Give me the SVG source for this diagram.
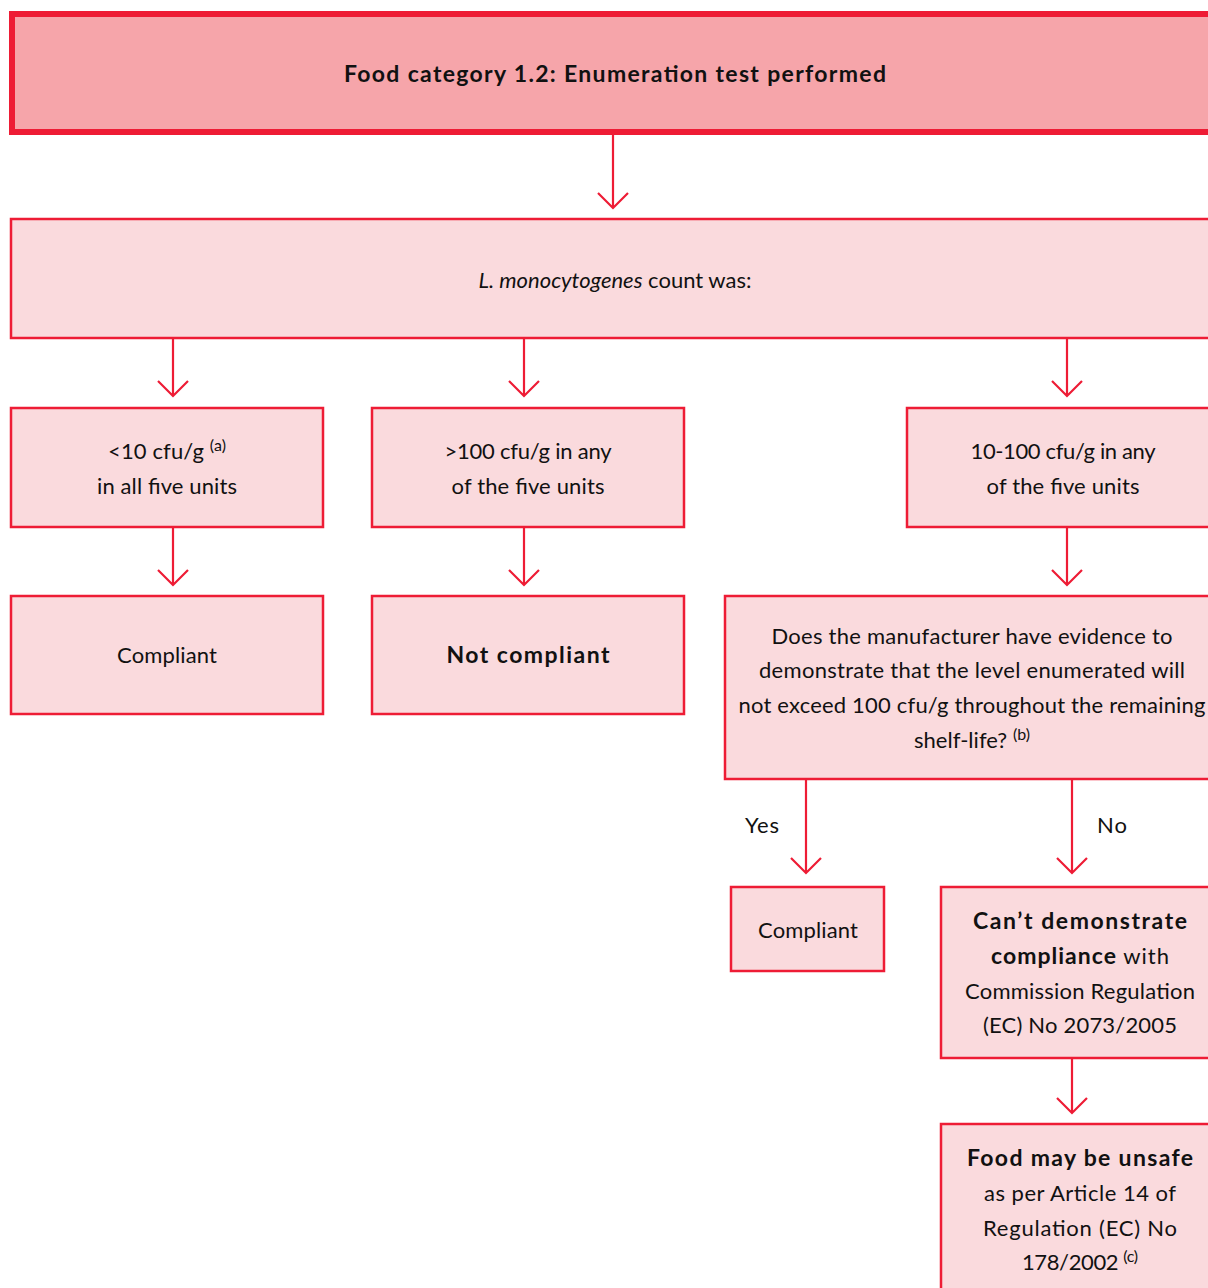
<svg xmlns="http://www.w3.org/2000/svg" width="1208" height="1288" viewBox="0 0 1208 1288">
<style>
.box{fill:#FADADD;stroke:#EE1C35;stroke-width:2.5}
.top{fill:#F6A5AA;stroke:#EE1C35;stroke-width:6}
.t{font-family:Lato,"Open Sans",sans-serif;font-size:22px;fill:#111;text-anchor:middle}
.b{font-weight:bold;font-size:23px}
.sup{font-size:16px}
.c path{stroke:#EE1C35;stroke-width:2.2;fill:none}
</style>
<rect width="1208" height="1288" fill="#fff"/>
<g class="c">
<path d="M613,135 V208 M598,193 L613,208 L628,193"/>
<path d="M173,338 V396 M158,381 L173,396 L188,381"/>
<path d="M524,338 V396 M509,381 L524,396 L539,381"/>
<path d="M1067,338 V396 M1052,381 L1067,396 L1082,381"/>
<path d="M173,527 V585 M158,570 L173,585 L188,570"/>
<path d="M524,527 V585 M509,570 L524,585 L539,570"/>
<path d="M1067,527 V585 M1052,570 L1067,585 L1082,570"/>
<path d="M806,779 V873 M791,858 L806,873 L821,858"/>
<path d="M1072,779 V873 M1057,858 L1072,873 L1087,858"/>
<path d="M1072,1058 V1113 M1057,1098 L1072,1113 L1087,1098"/>
<text class="t" x="762" y="833" textLength="34" lengthAdjust="spacing">Yes</text>
<text class="t" x="1112" y="833" textLength="30" lengthAdjust="spacing">No</text>
</g>
<g id="n1"><rect class="top" x="12" y="14" width="1220" height="118"/>
<text class="t b" x="615" y="82" textLength="542" lengthAdjust="spacing">Food category 1.2: Enumeration test performed</text></g>
<g id="n2"><rect class="box" x="11" y="219" width="1220" height="119"/>
<text class="t" x="615" y="288" textLength="273" lengthAdjust="spacing"><tspan font-style="italic">L. monocytogenes</tspan> count was:</text></g>
<g id="n3"><rect class="box" x="11" y="408" width="312" height="119"/>
<text class="t" x="167" y="459" textLength="118" lengthAdjust="spacing">&lt;10 cfu/g <tspan class="sup" dy="-8">(a)</tspan></text>
<text class="t" x="167" y="494" textLength="140" lengthAdjust="spacing">in all five units</text></g>
<g id="n4"><rect class="box" x="372" y="408" width="312" height="119"/>
<text class="t" x="528" y="459" textLength="167" lengthAdjust="spacing">&gt;100 cfu/g in any</text>
<text class="t" x="528" y="494" textLength="153" lengthAdjust="spacing">of the five units</text></g>
<g id="n5"><rect class="box" x="907" y="408" width="320" height="119"/>
<text class="t" x="1063" y="459" textLength="185" lengthAdjust="spacing">10-100 cfu/g in any</text>
<text class="t" x="1063" y="494" textLength="153" lengthAdjust="spacing">of the five units</text></g>
<g id="n6"><rect class="box" x="11" y="596" width="312" height="118"/>
<text class="t" x="167" y="663" textLength="100" lengthAdjust="spacing">Compliant</text></g>
<g id="n7"><rect class="box" x="372" y="596" width="312" height="118"/>
<text class="t b" x="528" y="663" textLength="163" lengthAdjust="spacing">Not compliant</text></g>
<g id="n8"><rect class="box" x="725" y="596" width="500" height="183"/>
<text class="t" x="972" y="644" textLength="401" lengthAdjust="spacing">Does the manufacturer have evidence to</text>
<text class="t" x="972" y="678" textLength="426" lengthAdjust="spacing">demonstrate that the level enumerated will</text>
<text class="t" x="972" y="713" textLength="467" lengthAdjust="spacing">not exceed 100 cfu/g throughout the remaining</text>
<text class="t" x="972" y="748" textLength="116" lengthAdjust="spacing">shelf-life? <tspan class="sup" dy="-8">(b)</tspan></text></g>
<g id="n9"><rect class="box" x="731" y="887" width="153" height="84"/>
<text class="t" x="808" y="938" textLength="100" lengthAdjust="spacing">Compliant</text></g>
<g id="n10"><rect class="box" x="941" y="887" width="290" height="171"/>
<text class="t b" x="1080" y="929" textLength="214" lengthAdjust="spacing">Can’t demonstrate</text>
<text class="t" x="1080" y="964" textLength="178" lengthAdjust="spacing"><tspan class="b">compliance</tspan> with</text>
<text class="t" x="1080" y="999" textLength="230" lengthAdjust="spacing">Commission Regulation</text>
<text class="t" x="1080" y="1033" textLength="194" lengthAdjust="spacing">(EC) No 2073/2005</text></g>
<g id="n11"><rect class="box" x="941" y="1124" width="290" height="190"/>
<text class="t b" x="1080" y="1166" textLength="226" lengthAdjust="spacing">Food may be unsafe</text>
<text class="t" x="1080" y="1201" textLength="192" lengthAdjust="spacing">as per Article 14 of</text>
<text class="t" x="1080" y="1236" textLength="194" lengthAdjust="spacing">Regulation (EC) No</text>
<text class="t" x="1080" y="1270" textLength="116" lengthAdjust="spacing">178/2002 <tspan class="sup" dy="-8">(c)</tspan></text></g>
</svg>
